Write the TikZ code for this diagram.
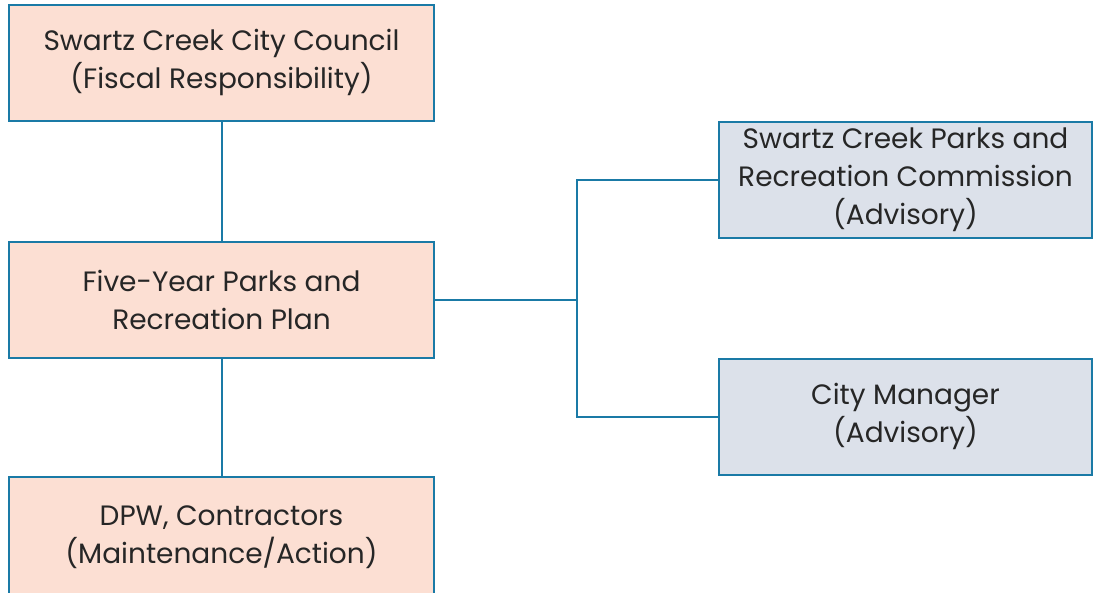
\documentclass[tikz,border=0pt]{standalone}
\usepackage{xcolor}
\usepackage{fontspec}
\usepackage{tikz}
\setmainfont{Poppins}
\definecolor{creekBlue}{HTML}{1A7AA6}
\definecolor{councilPeach}{HTML}{FCDFD3}
\definecolor{advisoryGray}{HTML}{DCE1EA}
\definecolor{inkGray}{HTML}{262626}
\tikzset{
  box/.style={draw=creekBlue, line width=2pt, minimum width=425pt, minimum height=116pt,
    align=center, text=inkGray, font=\fontsize{28}{38}\selectfont, inner sep=0pt},
  city/.style={box, fill=councilPeach},
  advisory/.style={box, fill=advisoryGray, minimum width=373pt},
  link/.style={draw=creekBlue, line width=2pt},
}
\begin{document}
\begin{tikzpicture}[x=1pt, y=-1pt]
  \useasboundingbox (0,0) rectangle (1099,592);
  \clip (0,0) rectangle (1099,592);
  \node[city] (council) at (221.5,62.5) {Swartz Creek City Council\\(Fiscal Responsibility)};
  \node[city] (plan) at (221.5,299.5) {Five-Year Parks and\\Recreation Plan};
  \node[city, minimum height=120pt] (dpw) at (221.5,537) {DPW, Contractors\\(Maintenance/Action)};
  \node[advisory] (commission) at (905.5,180) {Swartz Creek Parks and\\Recreation Commission\\(Advisory)};
  \node[advisory] (manager) at (905.5,416.5) {City Manager\\(Advisory)};
  \coordinate (fork) at (577,299.5);
  \draw[link] (council) -- (plan);
  \draw[link] (plan) -- (dpw);
  \draw[link] (plan) -- (fork);
  \draw[link] (commission.west) -| (fork) |- (manager.west);
\end{tikzpicture}
\end{document}
